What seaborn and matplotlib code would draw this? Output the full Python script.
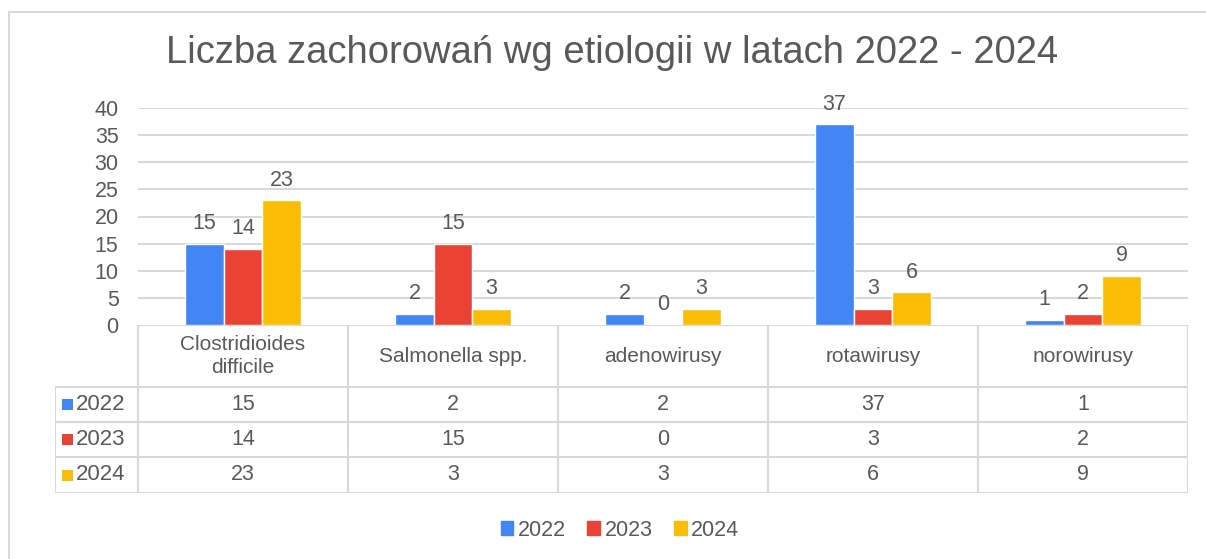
import numpy as np
import pandas as pd
import matplotlib
matplotlib.use("Agg")
import matplotlib.pyplot as plt
import seaborn as sns
from matplotlib.lines import Line2D
from matplotlib.patches import Rectangle

categories = ["Clostridioides\ndifficile", "Salmonella spp.", "adenowirusy", "rotawirusy", "norowirusy"]
years = ["2022", "2023", "2024"]
v2022 = [15, 2, 2, 37, 1]
v2023 = [14, 15, 0, 3, 2]
v2024 = [23, 3, 3, 6, 9]
colors = ["#4285F4", "#EA4335", "#FBBC04"]
title = "Liczba zachorowań wg etiologii w latach 2022 - 2024"
yticks = [0, 5, 10, 15, 20, 25, 30, 35, 40]

series = {"2022": v2022, "2023": v2023, "2024": v2024}
df = pd.DataFrame([(c, y, v) for y in years for c, v in zip(categories, series[y])],
                  columns=["cat", "year", "val"])

sns.set_theme(style="white")
plt.rcParams["font.family"] = ["Liberation Sans", "DejaVu Sans"]
TXT = "#595959"
GRID = "#D9D9D9"

W, H = 1206, 559
fig = plt.figure(figsize=(W / 100, H / 100), dpi=100)
fig.patch.set_facecolor("white")

def fx(px):
    return px / W

def fy(py):
    return 1 - py / H

# outer border
fig.add_artist(Line2D([fx(9), 1], [fy(12), fy(12)], color="#D9D9D9", lw=1.5))
fig.add_artist(Line2D([fx(9), fx(9)], [fy(12), 0], color="#D9D9D9", lw=1.5))

# main axes
x0, x1 = 138, 1188
ytop, ybot = 108, 325
ax = fig.add_axes([fx(x0), fy(ybot), fx(x1 - x0), (ybot - ytop) / H])
sns.barplot(data=df, x="cat", y="val", hue="year", palette=colors, ax=ax,
            width=0.55, saturation=1, legend=False, errorbar=None)
ax.set_xlim(-0.5, 4.5)
ax.set_ylim(0, 40)
ax.set_yticks(yticks)
ax.set_yticklabels([str(t) for t in yticks], fontsize=15.5, color=TXT)
ax.tick_params(axis="y", length=0, pad=14)
ax.set_xticks([])
ax.set_xlabel("")
ax.set_ylabel("")
for s in ax.spines.values():
    s.set_visible(False)
ax.grid(False)
for t in yticks[1:]:
    ax.axhline(t, color=GRID, lw=1.5, zorder=0)
ax.set_facecolor("none")
for cont in ax.containers:
    ax.bar_label(cont, fmt="%d", padding=7, fontsize=15.5, color=TXT, clip_on=False)

# title
fig.text(fx(612), fy(53), title, ha="center", va="center", fontsize=27.5, color=TXT)

# data table axes
tleft, tbot = 55, 493
tax = fig.add_axes([fx(tleft), fy(tbot), fx(x1 - tleft), (tbot - ybot) / H])
extra = (x0 - tleft) / 210.0
tax.set_xlim(-0.5 - extra, 4.5)
tax.set_ylim(0, tbot - ybot)
tax.axis("off")
toph = tbot - ybot  # 168
rows_y = [106, 71, 36, 0]
xl = -0.5 - extra
lw = 1.5
for yy in rows_y:
    tax.plot([xl, 4.5], [yy, yy], color=GRID, lw=lw, solid_capstyle="butt")
tax.plot([-0.5, 4.5], [toph, toph], color=GRID, lw=lw)
for xb in np.arange(-0.5, 5.0, 1.0):
    tax.plot([xb, xb], [0, toph], color=GRID, lw=lw)
tax.plot([xl, xl], [0, 106], color=GRID, lw=lw)

for i, c in enumerate(categories):
    tax.text(i, (toph + 106) / 2, c, ha="center", va="center", fontsize=15,
             color=TXT, linespacing=1.3)
row_centers = [(106 + 71) / 2, (71 + 36) / 2, 36 / 2]
for r, (y, col) in enumerate(zip(years, colors)):
    yc = row_centers[r]
    for i, v in enumerate(series[y]):
        tax.text(i, yc, str(v), ha="center", va="center", fontsize=15.5, color=TXT)
    sq = 11 / 210.0
    tax.add_patch(Rectangle((xl + 7 / 210.0, yc - 5.5), sq, 11, color=col, lw=0))
    tax.text(xl + 21 / 210.0, yc, y, ha="left", va="center", fontsize=16, color=TXT)

# legend
handles = [Rectangle((0, 0), 1, 1, color=c) for c in colors]
fig.legend(handles, years, loc="center", bbox_to_anchor=(fx(620), fy(530)), ncol=3,
           frameon=False, fontsize=15.5, handlelength=0.6, handleheight=0.6,
           handletextpad=0.2, columnspacing=1.0, labelcolor=TXT)

fig.savefig("out.png", dpi=100, facecolor="white")
